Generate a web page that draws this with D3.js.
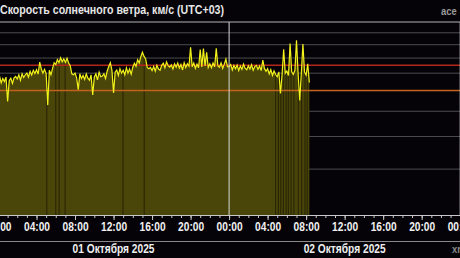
<!DOCTYPE html>
<html>
<head>
<meta charset="utf-8">
<script src="https://cdn.jsdelivr.net/npm/d3@7"></script>
<style>
  body { margin: 0; background: #050308; overflow: hidden; }
  svg text { font-family: "Liberation Sans", Arial, sans-serif; font-weight: bold; }
</style>
</head>
<body>
<div id="chart"></div>
<script>
// solar wind speed, km/s, 10 minute samples starting 01.10.2025 00:00 (UTC+03)
var startTime = "2025-10-01T00:00:00Z";
var stepMinutes = 10;
var speed = [
  660, 680, 642, 668, 650, 676,   // 00h
  545, 655, 670, 640, 672, 680,   // 01h
  665, 690, 658, 696, 674, 690,   // 02h
  700, 676, 712, 688, 718, 698,   // 03h
  722, 694, 772, 726, 700, 724,   // 04h
  696, 528, 718, 690, 730, 768,   // 05h
  755, 790, 768, 802, 774, 795,   // 06h
  770, 798, 766, 748, 696, 690,   // 07h
  700, 672, 605, 696, 668, 686,   // 08h
  662, 696, 670, 658, 690, 578,   // 09h
  676, 696, 660, 706, 678, 682,   // 10h
  696, 668, 712, 742, 768, 718,   // 11h
  588, 706, 720, 686, 728, 700,   // 12h
  718, 690, 734, 700, 726, 694,   // 13h
  738, 765, 744, 788, 766, 810,   // 14h
  842, 812, 794, 736, 728, 736,   // 15h
  716, 742, 712, 750, 726, 718,   // 16h
  750, 764, 734, 774, 748, 738,   // 17h
  752, 726, 760, 738, 766, 732,   // 18h
  756, 720, 768, 736, 760, 744,   // 19h
  880, 740, 766, 730, 758, 734,   // 20h
  862, 740, 870, 746, 842, 736,   // 21h
  760, 734, 766, 740, 872, 746,   // 22h
  738, 766, 730, 758, 792, 740,   // 23h
  742, 756, 720, 750, 728, 752,   // 00h
  716, 746, 724, 758, 730, 722,   // 01h
  748, 726, 754, 718, 742, 750,   // 02h
  724, 746, 716, 785, 730, 712,   // 03h
  728, 696, 722, 686, 714, 692,   // 04h
  678, 708, 585, 690, 865, 700,   // 05h
  714, 686, 910, 708, 692, 718,   // 06h
  935, 698, 550, 700, 905, 706,   // 07h
  688, 760, 645                   // 08h
];
// missing data (hours from start)
var gapHours = [5.06, 6.0, 6.35, 6.96, 12.98, 15.19,
  28.84, 29.11, 29.36, 29.63, 29.91, 30.15, 30.43, 30.74, 31.19, 31.54, 31.88, 32.12];
var gridValues = [300, 400, 500, 600, 700, 800, 900, 1000];
var yMin = 200, yMax = 1100;
var thresholds = [{value: 600, color: "#c2621c"}, {value: 750, color: "#b3261a"}];
var dayLabels = ["01 Октября 2025", "02 Октября 2025"];
var title = "Скорость солнечного ветра, км/с (UTC+03)";

var width = 460, height = 258;
var plotTop = 22, plotBottom = 215;
var sx = 0.85; // narrow text

var t0 = new Date(startTime);
var data = speed.map(function(v, i) {
  return {t: new Date(t0.getTime() + i * stepMinutes * 60000), v: v};
});

var svg = d3.select("#chart").append("svg")
  .attr("width", width)
  .attr("height", height)
  .style("background", "#050308");

var x = d3.scaleUtc()
  .domain([t0, d3.utcDay.offset(t0, 2)])
  .range([-2, 460.2]);
var y = d3.scaleLog().domain([yMin, yMax]).range([plotBottom, plotTop]);

// title
svg.append("text")
  .attr("transform", "translate(0,14) scale(" + sx + ",1)")
  .attr("fill", "#e6e6e6")
  .style("font-size", "12.5px")
  .text(title);
svg.append("text")
  .attr("transform", "translate(441,15) scale(" + sx + ",1)")
  .attr("fill", "#9a9a9a")
  .style("font-size", "11px")
  .text("ace");

// grid
svg.selectAll("line.grid")
  .data(gridValues)
  .enter().append("line")
  .attr("class", "grid")
  .attr("x1", 0).attr("x2", width)
  .attr("y1", function(d) { return y(d); })
  .attr("y2", function(d) { return y(d); })
  .attr("stroke", "#4c4c4c")
  .attr("stroke-width", 1);
svg.append("line")
  .attr("x1", 0).attr("x2", width)
  .attr("y1", y(yMax)).attr("y2", y(yMax))
  .attr("stroke", "#b4b4b4")
  .attr("stroke-width", 1.2);

// filled area
var area = d3.area()
  .x(function(d) { return x(d.t); })
  .y0(y(yMin))
  .y1(function(d) { return y(d.v); });
svg.append("clipPath").attr("id", "areaClip")
  .append("path").datum(data).attr("d", area);
svg.append("path")
  .datum(data)
  .attr("fill", "#4a4509")
  .attr("d", area);

// data gaps
svg.append("g")
  .attr("clip-path", "url(#areaClip)")
  .selectAll("line")
  .data(gapHours)
  .enter().append("line")
  .attr("x1", function(d) { return x(d3.utcMinute.offset(t0, Math.round(d * 60))); })
  .attr("x2", function(d) { return x(d3.utcMinute.offset(t0, Math.round(d * 60))); })
  .attr("y1", plotTop).attr("y2", plotBottom)
  .attr("stroke", "#262305")
  .attr("stroke-width", 1);

// thresholds
svg.selectAll("line.thr")
  .data(thresholds)
  .enter().append("line")
  .attr("class", "thr")
  .attr("x1", 0).attr("x2", width)
  .attr("y1", function(d) { return y(d.value); })
  .attr("y2", function(d) { return y(d.value); })
  .attr("stroke", function(d) { return d.color; })
  .attr("stroke-width", 1.5);

// speed line
var line = d3.line()
  .x(function(d) { return x(d.t); })
  .y(function(d) { return y(d.v); });
svg.append("path")
  .datum(data)
  .attr("fill", "none")
  .attr("stroke", "#f2f21a")
  .attr("stroke-width", 1.2)
  .attr("d", line);

// midnight
svg.selectAll("line.day")
  .data(x.ticks(d3.utcDay.every(1)))
  .enter().append("line")
  .attr("class", "day")
  .attr("x1", function(d) { return x(d); })
  .attr("x2", function(d) { return x(d); })
  .attr("y1", plotTop).attr("y2", plotBottom)
  .attr("stroke", "#d8d8d8")
  .attr("stroke-width", 1);

// x axis
var minorAxis = svg.append("g")
  .attr("transform", "translate(0," + plotBottom + ")")
  .call(d3.axisBottom(x).ticks(d3.utcHour.every(1)).tickSize(3).tickSizeOuter(0).tickFormat(""));
var majorAxis = svg.append("g")
  .attr("transform", "translate(0," + plotBottom + ")")
  .call(d3.axisBottom(x).ticks(d3.utcHour.every(4)).tickSize(5).tickSizeOuter(0)
    .tickFormat(d3.utcFormat("%H:%M")));
svg.selectAll(".domain").attr("stroke", "#c8c8c8");
svg.selectAll(".tick line").attr("stroke", "#c8c8c8");
majorAxis.selectAll("text")
  .attr("y", 16)
  .attr("dy", 0)
  .attr("transform", "scale(" + sx + ",1)")
  .attr("fill", "#f0f0f0")
  .style("font-size", "12px")
  .style("font-family", "'Liberation Sans', Arial, sans-serif")
  .style("font-weight", "bold");

// separator + day labels
svg.append("line")
  .attr("x1", 0).attr("x2", width)
  .attr("y1", 241.5).attr("y2", 241.5)
  .attr("stroke", "#8a8a8a")
  .attr("stroke-width", 1.2);
svg.selectAll("text.dayLabel")
  .data(dayLabels)
  .enter().append("text")
  .attr("class", "dayLabel")
  .attr("transform", function(d, i) {
    return "translate(" + x(d3.utcHour.offset(t0, 24 * i + 12)) + ",253) scale(" + sx + ",1)";
  })
  .attr("text-anchor", "middle")
  .attr("fill", "#f0f0f0")
  .style("font-size", "12px")
  .text(function(d) { return d; });
svg.append("text")
  .attr("transform", "translate(452,253) scale(" + sx + ",1)")
  .attr("fill", "#8a8a8a")
  .style("font-size", "11px")
  .text("xras.ru");
</script>
</body>
</html>
